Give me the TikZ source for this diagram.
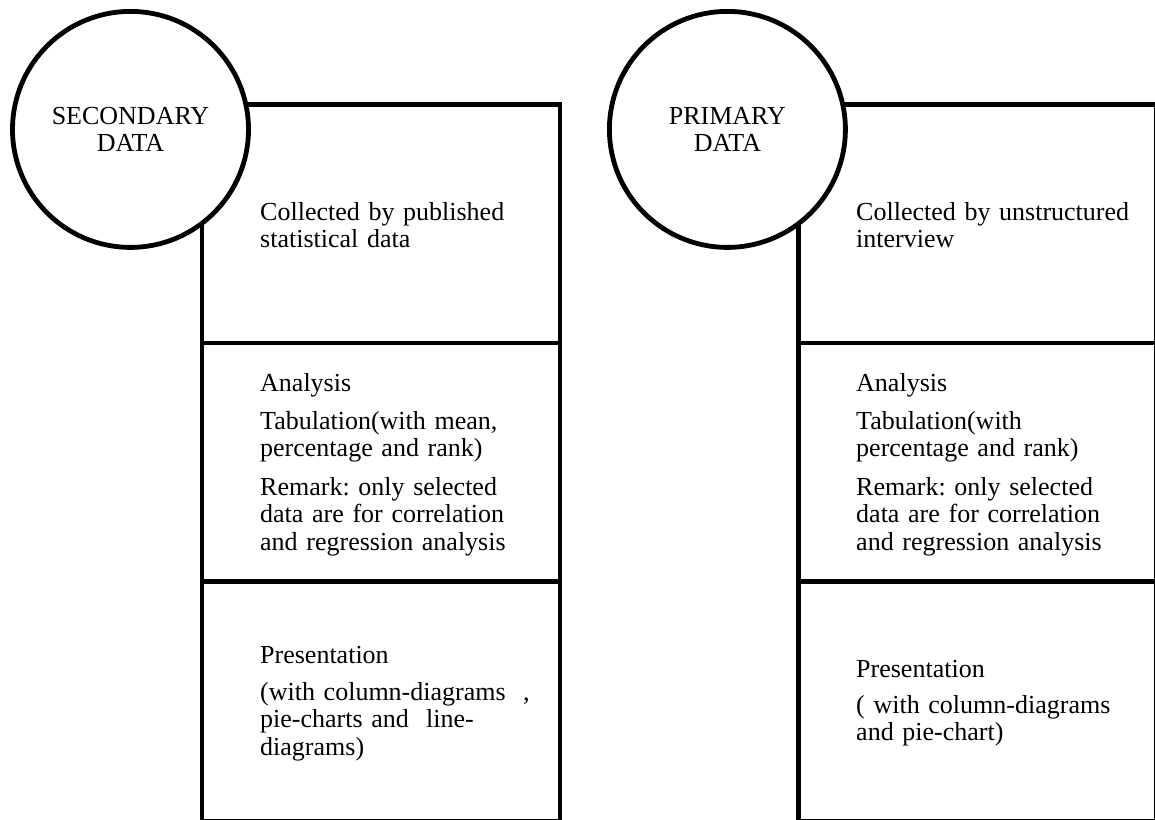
\documentclass[tikz,border=0pt]{standalone}
\usepackage{fontspec}
\setmainfont{Liberation Serif}
\frenchspacing
\begin{document}
\begin{tikzpicture}[x=1pt,y=-1pt,
    frame/.style={line width=4.8pt, draw=black},
    ring/.style={circle, line width=4.8pt, draw=black, fill=white,
      minimum size=236pt, inner sep=0pt, align=center,
      font=\fontsize{26}{27.5}\selectfont},
    para/.style={anchor=base west, inner sep=0pt, text width=290pt,
      align=left, font=\fontsize{26}{27.5}\selectfont}]
  \useasboundingbox (0,0) rectangle (1155,819);

  % left column: three stacked sections
  \draw[frame] (202,104.5) rectangle (560,821);
  \draw[frame] (202,343) -- (560,343);
  \draw[frame] (202,581.5) -- (560,581.5);

  % right column: three stacked sections
  \draw[frame] (798.3,104.5) rectangle (1156.5,821);
  \draw[frame] (798.3,343) -- (1156.5,343);
  \draw[frame] (798.3,581.5) -- (1156.5,581.5);

  % headings
  \node[ring] (secondary) at (130.5,129.4) {SECONDARY\\DATA};
  \node[ring] (primary) at (727.4,129.4) {PRIMARY\\DATA};

  % secondary data column
  \node[para] (scollect) at (260,220) {Collected by published\\statistical data};
  \node[para] (sanalysis) at (260,391) {Analysis};
  \node[para] (stab) at (260,429) {Tabulation(with mean,\\percentage and rank)};
  \node[para] (sremark) at (260,495) {Remark: only selected\\data are for correlation\\and regression analysis};
  \node[para] (spres) at (260,663) {Presentation};
  \node[para] (spresdet) at (260,700) {(with column-diagrams\ \ ,\\pie-charts and\ \ line-\\diagrams)};

  % primary data column
  \node[para] (pcollect) at (856,220) {Collected by unstructured\\interview};
  \node[para] (panalysis) at (856,391) {Analysis};
  \node[para] (ptab) at (856,429) {Tabulation(with\\percentage and rank)};
  \node[para] (premark) at (856,495) {Remark: only selected\\data are for correlation\\and regression analysis};
  \node[para] (ppres) at (856,677) {Presentation};
  \node[para] (ppresdet) at (856,713) {( with column-diagrams\\and pie-chart)};
\end{tikzpicture}
\end{document}
